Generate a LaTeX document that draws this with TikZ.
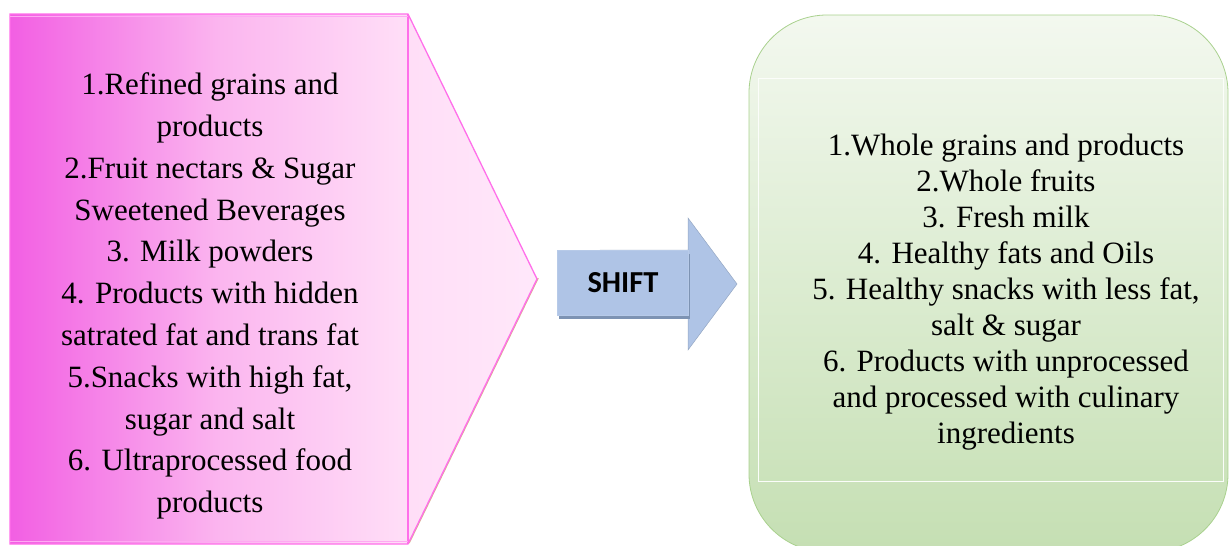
\documentclass[tikz,border=0pt]{standalone}
\usepackage{fontspec}
\setmainfont{Liberation Serif}
\newfontfamily\listfont{Liberation Serif}
\newfontfamily\shiftfont{Carlito}
\usetikzlibrary{shadows}
\definecolor{pinkedge}{HTML}{FF6FEA}
\definecolor{greenedge}{HTML}{A9D18E}
\definecolor{arrowfill}{HTML}{AFC4E6}
\definecolor{arrowshadow}{HTML}{7D93B3}
\definecolor{pkA}{HTML}{F25FE3}
\definecolor{pkB}{HTML}{F57DE7}
\definecolor{pkC}{HTML}{FBB6EF}
\definecolor{pkD}{HTML}{FFDDF7}
\definecolor{pkE}{HTML}{FFE8FA}
\definecolor{grTop}{HTML}{F3F8EF}
\definecolor{grMid}{HTML}{DCECD1}
\definecolor{grBot}{HTML}{C5DFB3}
\pgfdeclarehorizontalshading{pinkshade}{100bp}{color(0bp)=(pkA); color(25bp)=(pkA); color(32bp)=(pkB); color(45bp)=(pkC); color(62bp)=(pkD); color(75bp)=(pkE); color(100bp)=(pkE)}
\pgfdeclareverticalshading{greenshade}{100bp}{color(0bp)=(grBot); color(25bp)=(grBot); color(50bp)=(grMid); color(75bp)=(grTop); color(100bp)=(grTop)}
\tikzset{
  listtext/.style={align=center, text=black, inner sep=0pt},
  leftlist/.style={listtext, font=\listfont\fontsize{31}{41.8}\selectfont},
  rightlist/.style={listtext, font=\listfont\fontsize{31}{36}\selectfont},
  shiftbox/.style={fill=arrowfill, draw=arrowfill!90!white, line width=0.6pt,
    minimum width=131pt, minimum height=65pt, inner sep=0pt,
    font=\shiftfont\bfseries\fontsize{30.5}{32}\selectfont,
    drop shadow={shadow xshift=1pt, shadow yshift=-3pt, fill=arrowshadow, opacity=1}},
}
\begin{document}
\begin{tikzpicture}[x=1pt,y=-1pt]
\useasboundingbox (0,0) rectangle (1229,546);
% left pentagon
\coordinate (ltl) at (10,14);
\coordinate (ltr) at (408,14);
\coordinate (tip) at (537,279);
\coordinate (lbr) at (408,544);
\coordinate (lbl) at (10,544);
\draw[draw=brown!60!white, line width=1.2pt] ([xshift=1.2pt,yshift=1pt]tip) -- ([xshift=1.2pt,yshift=1pt]lbr);
\path[shading=pinkshade, draw=pinkedge, line width=1.3pt, line join=miter]
  (ltl) -- (ltr) -- (tip) -- (lbr) -- (lbl) -- cycle;
\draw[pinkedge, line width=1.3pt] (ltr) -- (lbr);
\draw[pinkedge!60!white, line width=1pt] (10,16.5) -- (408,16.5);
\draw[pinkedge!60!white, line width=1pt] (10,541.5) -- (408,541.5);
\node[leftlist] (left) at (210,296) {1.Refined grains and\\products\\2.Fruit nectars \& Sugar\\Sweetened Beverages\\3. Milk powders\\4. Products with hidden\\satrated fat and trans fat\\5.Snacks with high fat,\\sugar and salt\\6. Ultraprocessed food\\products};
% arrow
\coordinate (ab1) at (600,250);
\coordinate (ah1) at (688,250);
\coordinate (ah2) at (688,218);
\coordinate (atip) at (737,284);
\coordinate (ah3) at (688,350);
\coordinate (ah4) at (688,316);
\coordinate (ab4) at (600,316);
\path[fill=arrowfill, draw=arrowfill!85!black, line width=0.5pt]
  (ab1) -- (ah1) -- (ah2) -- (atip) -- (ah3) -- (ah4) -- (ab4) -- cycle;
\node[shiftbox] (shift) at (623,283) {SHIFT};
% right rounded box
\begin{scope}
\clip (0,0) rectangle (1229,546);
\path[shading=greenshade, draw=greenedge, line width=0.8pt, rounded corners=78pt]
  (749,15) rectangle (1228,552);
\end{scope}
\draw[white!70!grTop, line width=1pt] (758,78) rectangle (1223,481);
\node[rightlist] (right) at (1006,292) {1.Whole grains and products\\2.Whole fruits\\3. Fresh milk\\4. Healthy fats and Oils\\5. Healthy snacks with less fat,\\salt \& sugar\\6. Products with unprocessed\\and processed with culinary\\ingredients};
\end{tikzpicture}
\end{document}
